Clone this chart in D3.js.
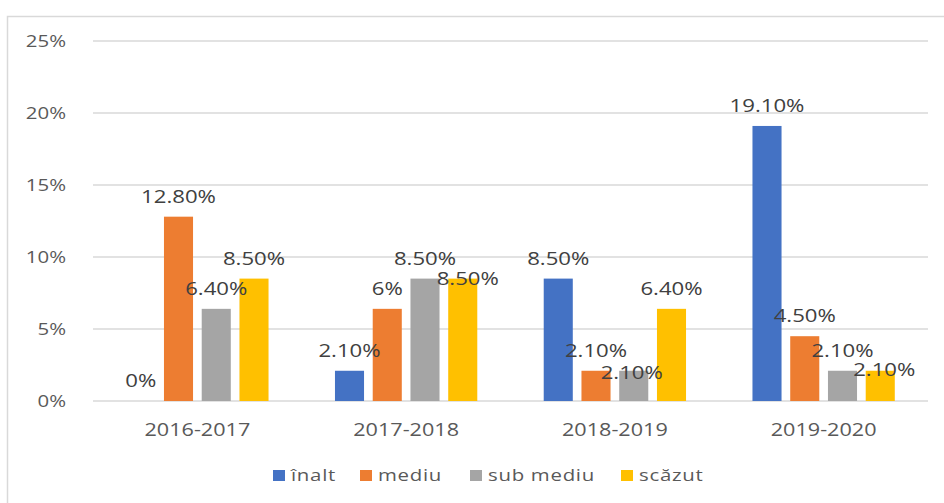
<!DOCTYPE html>
<html>
<head>
<meta charset="utf-8">
<script src="https://cdn.jsdelivr.net/npm/d3@7"></script>
<style>
  body { margin: 0; background: #fff; }
  svg { display: block; font-family: "Open Sans", sans-serif; }
</style>
</head>
<body>
<svg id="chart" width="944" height="503"></svg>
<script>
const groups = ['2016-2017', '2017-2018', '2018-2019', '2019-2020'];
const series = ['înalt', 'mediu', 'sub mediu', 'scăzut'];
const colors = ['#4472c4', '#ed7d31', '#a5a5a5', '#ffc000'];

// values per series, one entry per group (percent)
const inalt = [0, 2.1, 8.5, 19.1];
const mediu = [12.8, 6.4, 2.1, 4.5];
const subMediu = [6.4, 8.5, 2.1, 2.1];
const scazut = [8.5, 8.5, 6.4, 2.1];

// labels as printed on the chart (one of them does not match its bar)
const labelsInalt = ['0%', '2.10%', '8.50%', '19.10%'];
const labelsMediu = ['12.80%', '6%', '2.10%', '4.50%'];
const labelsSubMediu = ['6.40%', '8.50%', '2.10%', '2.10%'];
const labelsScazut = ['8.50%', '8.50%', '6.40%', '2.10%'];

const yTicks = [0, 5, 10, 15, 20, 25];

// a few labels were dragged by hand in the original
const labelNudge = {
  '1-3': [5, 20],
  '2-2': [-2, 22],
  '3-3': [4, 19]
};

// legend swatch left edges
const legendX = [273, 360, 470, 621];

const values = [inalt, mediu, subMediu, scazut];
const labels = [labelsInalt, labelsMediu, labelsSubMediu, labelsScazut];
const SX = 1.2;

const svg = d3.select('#chart');

// chart frame
svg.append('path')
  .attr('d', 'M7.5,503V16.5H944')
  .attr('fill', 'none')
  .attr('stroke', '#d9d9d9')
  .attr('stroke-width', 1.5);

const x0 = d3.scaleBand().domain(groups).range([93, 928]);
const x1 = d3.scaleBand().domain(series).range([0, x0.bandwidth()])
  .paddingInner(0.23).paddingOuter(0.88);
const y = d3.scaleLinear().domain([0, 25]).range([401, 41]);

function stretchedText(g, x, yy, txt) {
  return g.append('text')
    .attr('transform', 'translate(' + x + ',' + yy + ') scale(' + SX + ',1)')
    .text(txt);
}

// grid
svg.append('g').selectAll('line')
  .data(yTicks)
  .join('line')
  .attr('x1', 93).attr('x2', 928)
  .attr('y1', d => y(d)).attr('y2', d => y(d))
  .attr('stroke', '#d9d9d9')
  .attr('stroke-width', 1.5);

// y labels
const yl = svg.append('g')
  .attr('fill', '#595959')
  .attr('font-size', 17)
  .attr('text-anchor', 'end');
yTicks.forEach(t => {
  stretchedText(yl, 66, y(t) + 6, t + '%');
});

// x labels
const xl = svg.append('g')
  .attr('fill', '#595959')
  .attr('font-size', 18)
  .attr('text-anchor', 'middle');
groups.forEach(gr => {
  stretchedText(xl, x0(gr) + x0.bandwidth() / 2, 436, gr);
});

// bars
const bars = svg.append('g');
series.forEach((s, si) => {
  bars.selectAll('rect.s' + si)
    .data(values[si])
    .join('rect')
    .attr('class', 's' + si)
    .attr('x', (d, gi) => x0(groups[gi]) + x1(s))
    .attr('y', d => y(d))
    .attr('width', x1.bandwidth())
    .attr('height', d => y(0) - y(d))
    .attr('fill', colors[si]);
});

// data labels
const dl = svg.append('g')
  .attr('fill', '#404040')
  .attr('font-size', 18.5)
  .attr('text-anchor', 'middle');
series.forEach((s, si) => {
  values[si].forEach((v, gi) => {
    const n = labelNudge[gi + '-' + si] || [0, 0];
    const cx = x0(groups[gi]) + x1(s) + x1.bandwidth() / 2 + n[0];
    const cy = y(v) - 14 + n[1];
    stretchedText(dl, cx, cy, labels[si][gi]);
  });
});

// legend
const lg = svg.append('g')
  .attr('fill', '#595959')
  .attr('font-size', 17);
series.forEach((s, si) => {
  lg.append('rect')
    .attr('x', legendX[si]).attr('y', 470)
    .attr('width', 12).attr('height', 11)
    .attr('fill', colors[si]);
  stretchedText(lg, legendX[si] + 18, 481, s).attr('letter-spacing', 0.6);
});
</script>
</body>
</html>
